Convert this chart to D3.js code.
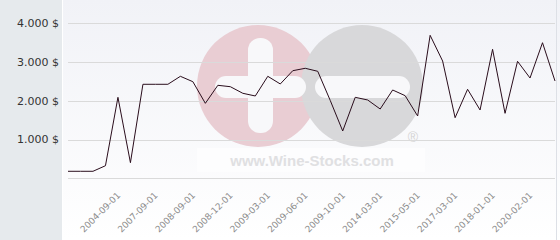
<!DOCTYPE html>
<html>
<head>
<meta charset="utf-8">
<script src="https://cdn.jsdelivr.net/npm/d3@7"></script>
<style>
  body { margin: 0; background: #fff; }
  svg { display: block; font-family: "DejaVu Sans", Verdana, sans-serif; }
</style>
</head>
<body>
<svg id="chart" width="560" height="240"></svg>
<script>
// prices per point
const prices = [
  181, 181, 181, 325, 2090, 403, 2426, 2426, 2426, 2632,
  2493, 1935, 2400, 2364, 2194, 2124, 2632, 2434, 2777, 2839,
  2761, 2010, 1221, 2090, 2021, 1788, 2279, 2132, 1608, 3690,
  3027, 1564, 2297, 1763, 3329, 1677, 3019, 2588, 3499, 2511
];
// every third point carries a date label
const tickIdx = [4, 7, 10, 13, 16, 19, 22, 25, 28, 31, 34, 37];
const tickLabels = [
  "2004-09-01", "2007-09-01", "2008-09-01", "2008-12-01", "2009-03-01", "2009-06-01",
  "2009-10-01", "2014-03-01", "2015-05-01", "2017-03-01", "2018-01-01", "2020-02-01"
];
const yTicks = [1000, 2000, 3000, 4000];

const W = 560, H = 240;
const plotL = 68, plotR = 555, plotT = 23.3, plotB = 178.3;

const svg = d3.select("#chart");

const defs = svg.append("defs");
const grad = defs.append("linearGradient")
  .attr("id", "bg").attr("x1", 0).attr("y1", 0).attr("x2", 0).attr("y2", 1);
grad.append("stop").attr("offset", "0%").attr("stop-color", "#f1f2f7");
grad.append("stop").attr("offset", "100%").attr("stop-color", "#ffffff");

// backgrounds
svg.append("rect").attr("x", 63).attr("y", 0).attr("width", W - 63).attr("height", H)
  .attr("fill", "url(#bg)");
svg.append("rect").attr("x", 0).attr("y", 0).attr("width", 62).attr("height", H)
  .attr("fill", "#e6eaed");
svg.append("line").attr("x1", 556.5).attr("x2", 556.5).attr("y1", 0).attr("y2", H)
  .attr("stroke", "#dde0e6");

const x = d3.scalePoint().domain(d3.range(prices.length)).range([plotL, plotR]);
const y = d3.scaleLinear().domain([0, 4000]).range([plotB, plotT]);

// watermark
const wm = svg.append("g");
wm.append("rect").attr("x", 197).attr("y", 148).attr("width", 228).attr("height", 24)
  .attr("fill", "#ffffff").attr("opacity", 0.6);
wm.append("circle").attr("cx", 258).attr("cy", 86).attr("r", 61).attr("fill", "#e9cdd3");
wm.append("circle").attr("cx", 362).attr("cy", 86).attr("r", 61).attr("fill", "#d8d8da");
wm.append("rect").attr("x", 248).attr("y", 38).attr("width", 25).attr("height", 95)
  .attr("rx", 12).attr("fill", "#f8f8fa");
wm.append("rect").attr("x", 215).attr("y", 76).attr("width", 91).attr("height", 22)
  .attr("rx", 11).attr("fill", "#f8f8fa");
wm.append("rect").attr("x", 315).attr("y", 76).attr("width", 95).attr("height", 22)
  .attr("rx", 11).attr("fill", "#f8f8fa");
wm.append("text").attr("x", 413).attr("y", 142).attr("text-anchor", "middle")
  .attr("font-family", "Liberation Sans, Arial, sans-serif").attr("font-size", 14)
  .attr("fill", "#d4d4d4").text("®");
wm.append("text").attr("x", 312).attr("y", 166).attr("text-anchor", "middle")
  .attr("font-family", "Liberation Sans, Arial, sans-serif").attr("font-weight", "bold")
  .attr("font-size", 15).attr("fill", "#e0e0e2").text("www.Wine-Stocks.com");

// grid
svg.append("g")
  .selectAll("line")
  .data([0].concat(yTicks))
  .join("line")
  .attr("x1", plotL).attr("x2", plotR)
  .attr("y1", (d) => Math.round(y(d)) + 0.5)
  .attr("y2", (d) => Math.round(y(d)) + 0.5)
  .attr("stroke", "#dadada");

// y labels
const fmt = (d) => d3.format(",")(d).replace(/,/g, ".") + " $";
svg.append("g")
  .selectAll("text")
  .data(yTicks)
  .join("text")
  .attr("x", 59)
  .attr("y", (d) => y(d))
  .attr("dy", "0.35em")
  .attr("text-anchor", "end")
  .attr("font-size", 11)
  .attr("fill", "#333")
  .text(fmt);

// x labels
svg.append("g")
  .selectAll("text")
  .data(tickIdx)
  .join("text")
  .attr("text-anchor", "end")
  .attr("transform", (d) => `translate(${x(d) + 3},${196}) rotate(-45)`)
  .attr("font-size", 9)
  .attr("fill", "#8c8c8c")
  .text((d, i) => tickLabels[i]);

// price line
const line = d3.line()
  .x((d, i) => x(i))
  .y((d) => y(d));

svg.append("path")
  .datum(prices)
  .attr("fill", "none")
  .attr("stroke", "#2a0d1c")
  .attr("stroke-width", 1)
  .attr("stroke-linejoin", "round")
  .attr("d", line);
</script>
</body>
</html>
